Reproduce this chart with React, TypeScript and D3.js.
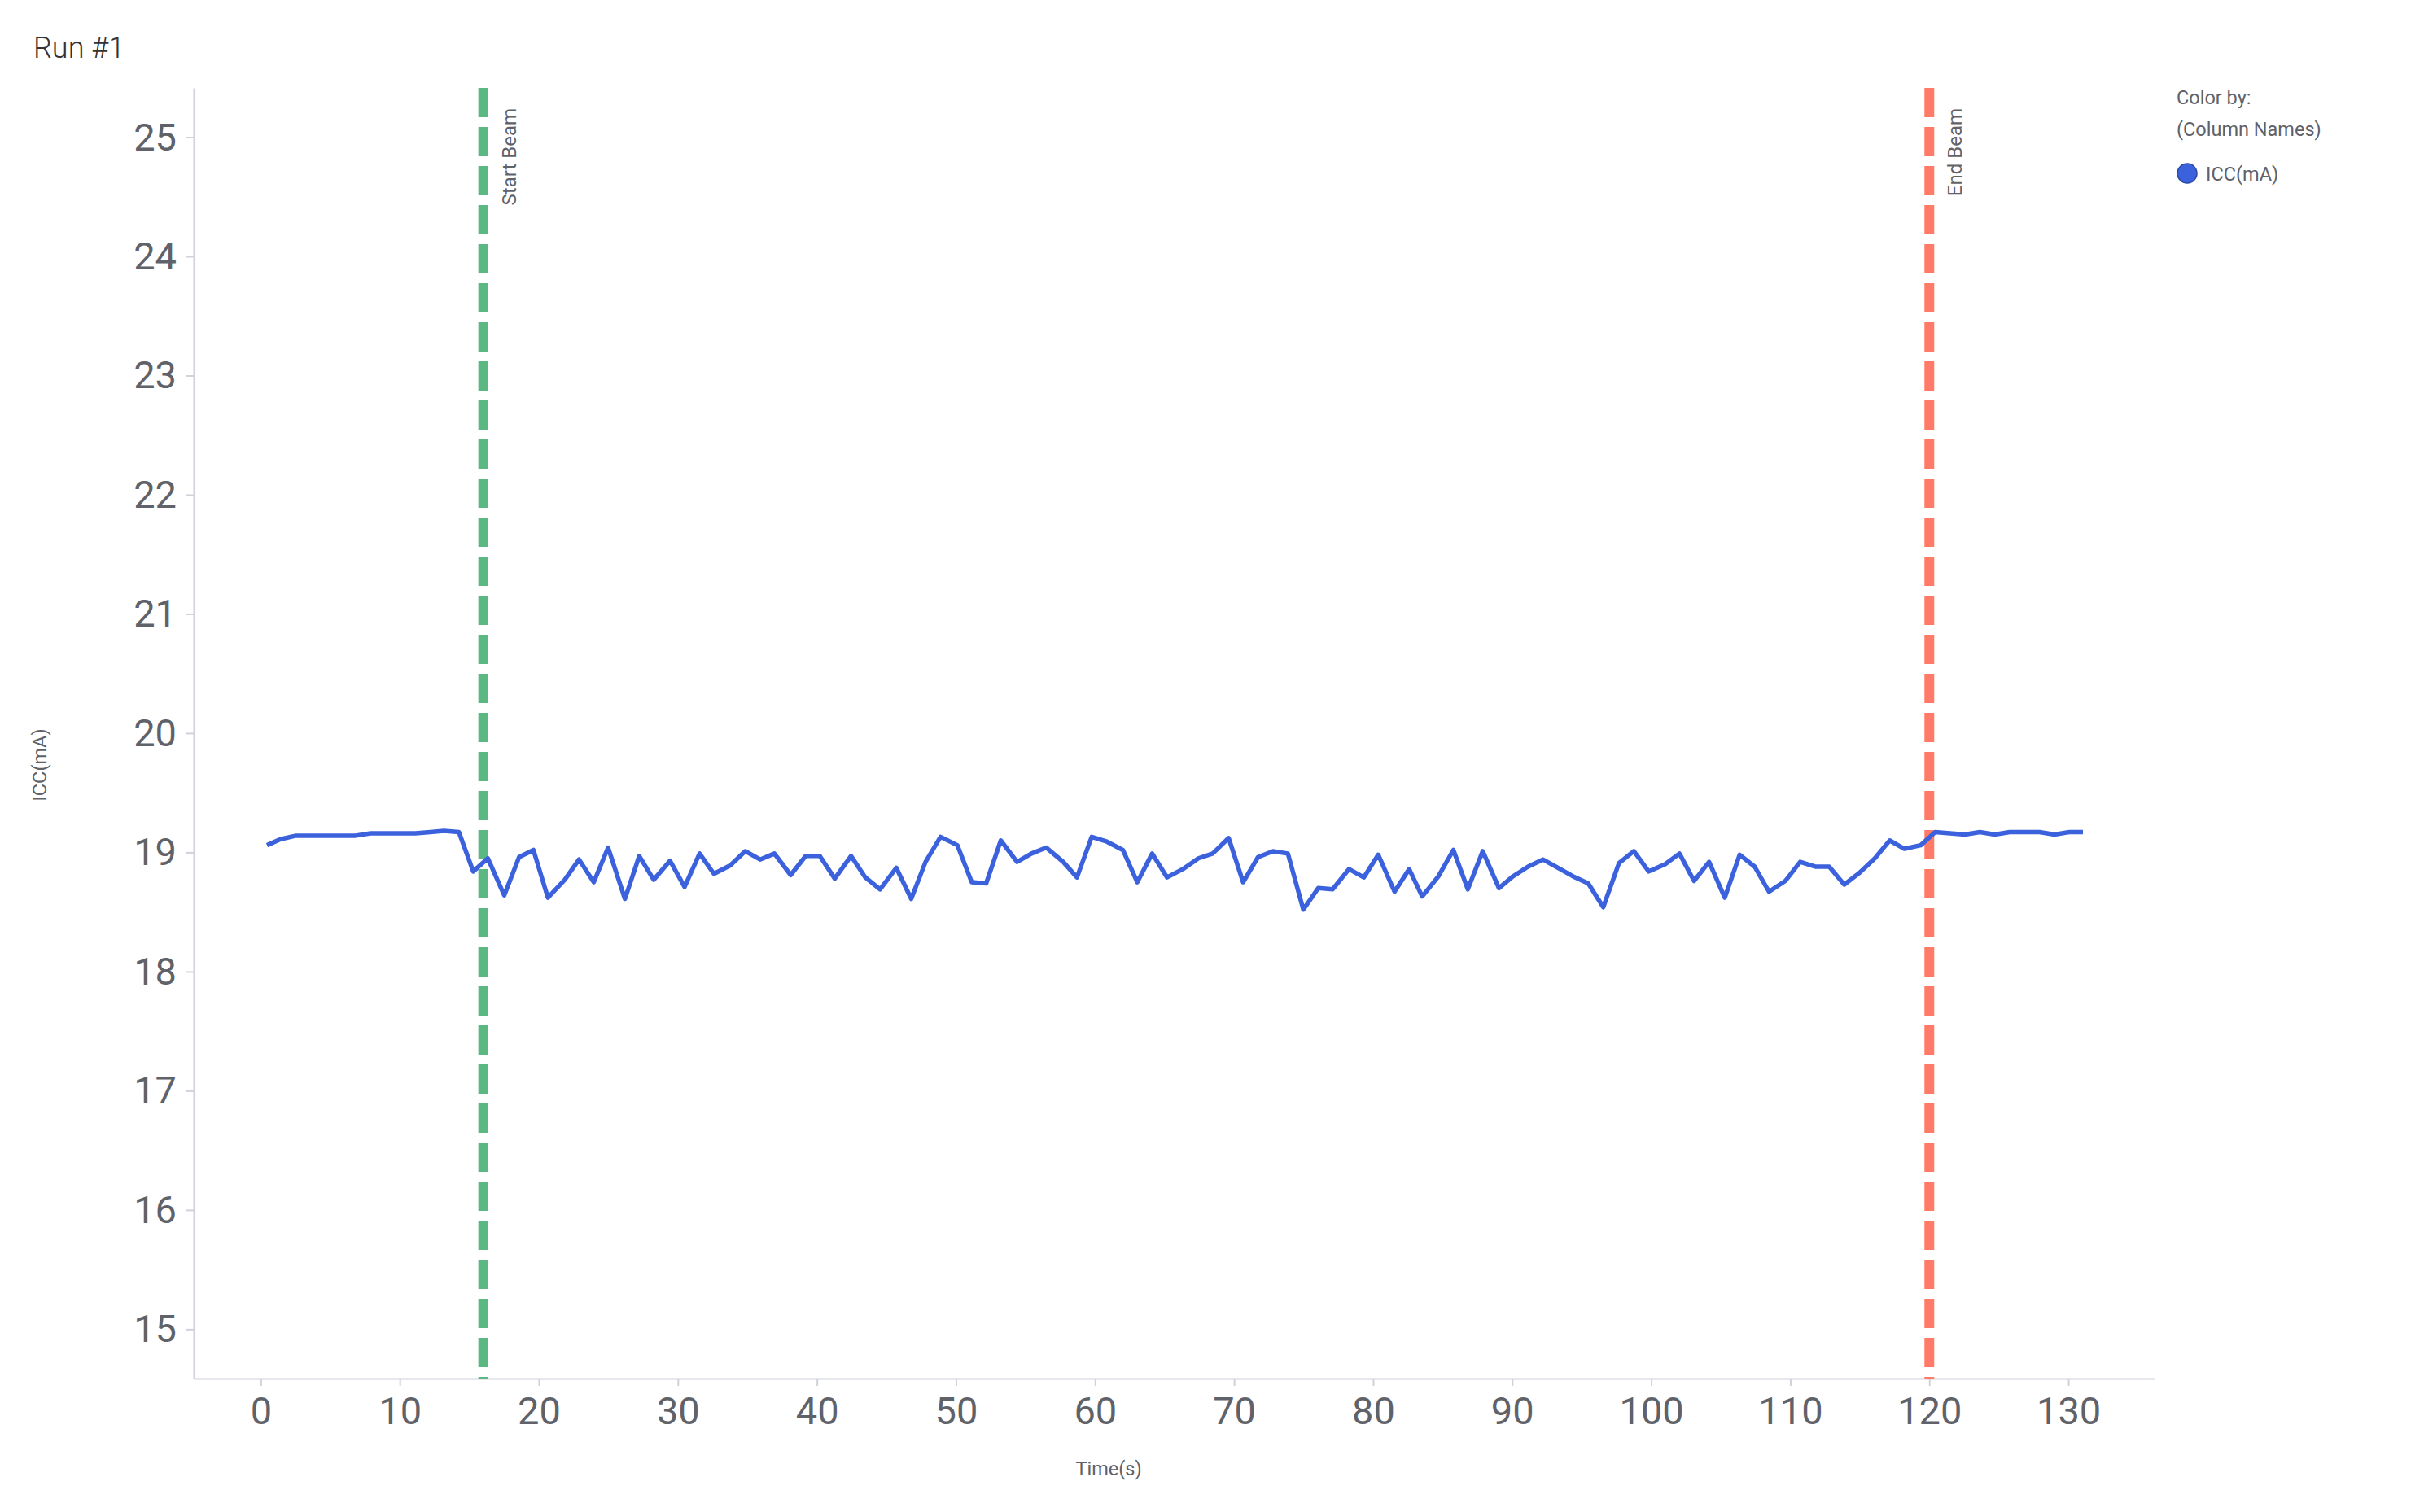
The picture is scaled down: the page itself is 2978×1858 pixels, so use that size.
import { useEffect, useRef } from 'react'
import * as d3 from 'd3'

// ICC current over time
const times = [
  0.45, 1.42, 2.54, 3.61, 4.68, 5.76, 6.83, 7.9, 8.98, 10.05, 11.12, 12.2, 13.17, 14.25, 15.28,
  16.33, 17.51, 18.58, 19.61, 20.65, 21.86, 22.89, 23.95, 24.98, 26.19, 27.22, 28.26,
  29.43, 30.48, 31.56, 32.59, 33.76, 34.84, 35.91, 36.94, 38.11, 39.19, 40.2, 41.28, 42.45,
  43.48, 44.54, 45.71, 46.78, 47.81, 48.89, 50.1, 51.13, 52.17, 53.22, 54.39, 55.43, 56.5,
  57.71, 58.7,
  59.76, 60.85, 62.0, 63.04, 64.11, 65.18, 66.32, 67.43, 68.46, 69.61, 70.65, 71.72, 72.8,
  73.87, 74.98, 76.05, 77.09, 78.26, 79.33, 80.37, 81.54, 82.59, 83.53, 84.7, 85.77, 86.81,
  87.88,
  89.05, 90.07, 91.14, 92.21, 93.29, 94.36, 95.47, 96.55, 97.68, 98.75, 99.82, 101.0, 102.03,
  103.08, 104.16, 105.29, 106.36, 107.44, 108.47, 109.64, 110.71, 111.79, 112.8, 113.88,
  114.99, 116.08, 117.15, 118.21,
  119.38, 120.42, 121.49, 122.56, 123.63, 124.71, 125.78, 126.85, 127.93, 129.0, 130.07, 131.05
]

const iccValues = [
  19.06, 19.11, 19.14, 19.14, 19.14, 19.14, 19.14, 19.16, 19.16, 19.16, 19.16, 19.17, 19.18,
  19.17, 18.84, 18.95, 18.64, 18.96, 19.02, 18.62, 18.77, 18.94, 18.75, 19.04, 18.61, 18.97,
  18.77,
  18.93, 18.71, 18.99, 18.82, 18.89, 19.01, 18.94, 18.99, 18.81, 18.97, 18.97, 18.78, 18.97,
  18.79, 18.69, 18.87, 18.61, 18.92, 19.13, 19.06, 18.75, 18.74, 19.1, 18.92, 18.99, 19.04,
  18.92, 18.79,
  19.13, 19.09, 19.02, 18.75, 18.99, 18.79, 18.86, 18.95, 18.99, 19.12, 18.75, 18.96, 19.01,
  18.99, 18.52, 18.7, 18.69, 18.86, 18.79, 18.98, 18.67, 18.86, 18.63, 18.8, 19.02, 18.69,
  19.01,
  18.7, 18.8, 18.88, 18.94, 18.87, 18.8, 18.74, 18.54, 18.91, 19.01, 18.84, 18.9, 18.99, 18.76,
  18.92, 18.62, 18.98, 18.88, 18.67, 18.76, 18.92, 18.88, 18.88, 18.73, 18.83, 18.95, 19.1,
  19.03,
  19.06, 19.17, 19.16, 19.15, 19.17, 19.15, 19.17, 19.17, 19.17, 19.15, 19.17, 19.17
]

const xTicks = [0, 10, 20, 30, 40, 50, 60, 70, 80, 90, 100, 110, 120, 130]
const yTicks = [15, 16, 17, 18, 19, 20, 21, 22, 23, 24, 25]

const markers = [
  { label: 'Start Beam', time: 16, color: '#5cb883' },
  { label: 'End Beam', time: 120, color: '#ff7b67' }
]

const seriesName = 'ICC(mA)'
const lineColor = '#3b62dc'
const axisColor = '#cfd2db'
const textColor = '#5f6269'
const font = 'Roboto, "Noto Sans", sans-serif'

const WIDTH = 2978
const HEIGHT = 1858
const margin = { top: 108, right: 331, bottom: 164, left: 238 }

export default function App() {
  const svgRef = useRef<SVGSVGElement>(null)

  useEffect(() => {
    document.body.style.margin = '0'
    if (!svgRef.current) return

    const svg = d3.select(svgRef.current)
    svg.selectAll('*').remove()

    const innerWidth = WIDTH - margin.left - margin.right
    const innerHeight = HEIGHT - margin.top - margin.bottom

    const xScale = d3.scaleLinear().domain([-4.82, 136.2]).range([0, innerWidth])
    const yScale = d3.scaleLinear().domain([14.586, 25.413]).range([innerHeight, 0])

    const data = times.map((t, i) => ({ x: t, y: iccValues[i] }))

    svg.append('rect')
      .attr('width', WIDTH)
      .attr('height', HEIGHT)
      .attr('fill', '#ffffff')

    // Title
    svg.append('text')
      .attr('x', 41)
      .attr('y', 71)
      .attr('font-family', font)
      .attr('font-weight', 300)
      .attr('font-size', 36)
      .attr('fill', '#333333')
      .text('Run #1')

    const g = svg.append('g')
      .attr('transform', `translate(${margin.left},${margin.top})`)

    // Axes
    const xAxis = g.append('g')
      .attr('transform', `translate(0,${innerHeight})`)
      .call(d3.axisBottom(xScale)
        .tickValues(xTicks)
        .tickSize(9)
        .tickSizeOuter(0)
        .tickPadding(14)
        .tickFormat(d => String(d))
      )

    const yAxis = g.append('g')
      .call(d3.axisLeft(yScale)
        .tickValues(yTicks)
        .tickSize(9)
        .tickSizeOuter(0)
        .tickPadding(12)
        .tickFormat(d => String(d))
      )

    ;[xAxis, yAxis].forEach(axis => {
      axis.select('.domain')
        .attr('stroke', axisColor)
        .attr('stroke-width', 2)
      axis.selectAll('.tick line')
        .attr('stroke', axisColor)
        .attr('stroke-width', 2)
      axis.selectAll('.tick text')
        .attr('fill', textColor)
        .attr('font-family', font)
        .attr('font-size', 47)
    })
    yAxis.selectAll('.tick text').attr('dy', '0.33em')

    // Beam markers
    markers.forEach(m => {
      const mx = xScale(m.time)
      g.append('line')
        .attr('x1', mx)
        .attr('x2', mx)
        .attr('y1', 0)
        .attr('y2', innerHeight)
        .attr('stroke', m.color)
        .attr('stroke-width', 12)
        .attr('stroke-dasharray', '36 12')

      g.append('text')
        .attr('transform', `translate(${mx + 40},25) rotate(-90)`)
        .attr('text-anchor', 'end')
        .attr('font-family', font)
        .attr('font-size', 24)
        .attr('fill', textColor)
        .text(m.label)
    })

    // Series line
    const line = d3.line<{ x: number; y: number }>()
      .x(d => xScale(d.x))
      .y(d => yScale(d.y))

    g.append('path')
      .datum(data)
      .attr('fill', 'none')
      .attr('stroke', lineColor)
      .attr('stroke-width', 5.5)
      .attr('stroke-linejoin', 'round')
      .attr('d', line)

    // Axis titles
    svg.append('text')
      .attr('x', 1362)
      .attr('y', 1813)
      .attr('text-anchor', 'middle')
      .attr('font-family', font)
      .attr('font-size', 23.5)
      .attr('fill', textColor)
      .text('Time(s)')

    svg.append('text')
      .attr('transform', 'translate(57,940) rotate(-90)')
      .attr('text-anchor', 'middle')
      .attr('font-family', font)
      .attr('font-size', 23.5)
      .attr('fill', textColor)
      .text(seriesName)

    // Legend
    const legend = svg.append('g').attr('transform', 'translate(2674,0)')
    legend.append('text')
      .attr('x', 0)
      .attr('y', 128)
      .attr('font-family', font)
      .attr('font-size', 23.5)
      .attr('fill', textColor)
      .text('Color by:')
    legend.append('text')
      .attr('x', 0)
      .attr('y', 167)
      .attr('font-family', font)
      .attr('font-size', 23.5)
      .attr('fill', textColor)
      .text('(Column Names)')
    legend.append('circle')
      .attr('cx', 13)
      .attr('cy', 213)
      .attr('r', 12)
      .attr('fill', lineColor)
      .attr('stroke', '#2a48a6')
      .attr('stroke-width', 1.5)
    legend.append('text')
      .attr('x', 36)
      .attr('y', 222)
      .attr('font-family', font)
      .attr('font-size', 23.5)
      .attr('fill', textColor)
      .text(seriesName)
  }, [])

  return (
    <svg
      ref={svgRef}
      width={WIDTH}
      height={HEIGHT}
      style={{ display: 'block', position: 'absolute', left: 0, top: 0 }}
    />
  )
}
